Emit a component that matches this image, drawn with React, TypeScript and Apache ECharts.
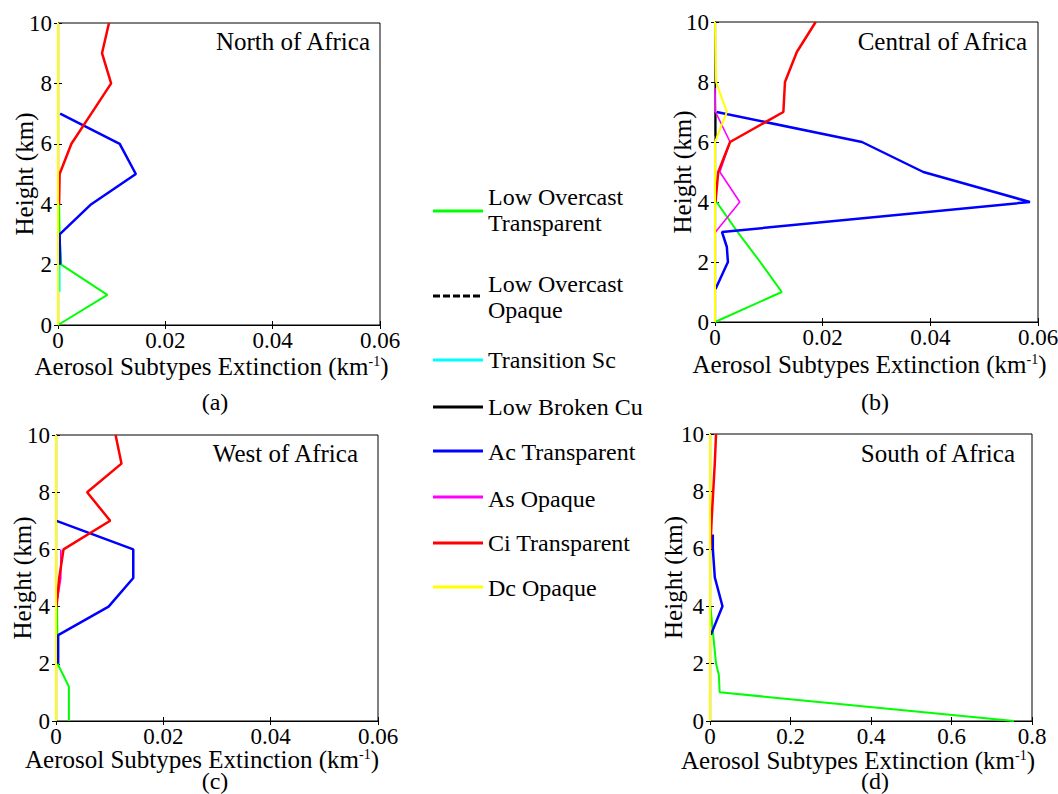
import React, { useEffect, useRef } from "react";
import * as echarts from "echarts";

// ---------- data (extinction km^-1, height km) ----------
const seriesNames = [
  "Low Overcast Transparent",
  "Low Overcast Opaque",
  "Transition Sc",
  "Low Broken Cu",
  "Ac Transparent",
  "As Opaque",
  "Ci Transparent",
  "Dc Opaque",
];
const legendLabels = [
  "Low Overcast\nTransparent",
  "Low Overcast\nOpaque",
  "Transition Sc",
  "Low Broken Cu",
  "Ac Transparent",
  "As Opaque",
  "Ci Transparent",
  "Dc Opaque",
];
const panelTitles = ["North of Africa", "Central of Africa", "West of Africa", "South of Africa"];
const panelLetters = ["(a)", "(b)", "(c)", "(d)"];
const xMaxes = [0.06, 0.06, 0.06, 0.8];
const xIntervals = [0.02, 0.02, 0.02, 0.2];
const heightMax = 10;
const heightInterval = 2;

// North of Africa
const northLowOvercastTransparent = [[0, 0], [0.0092, 1], [0.0006, 2], [0.0003, 3], [0.0002, 4]];
const northTransitionSc = [[0.0003, 1.1], [0.0003, 2]];
const northAcTransparent = [[0.0004, 2], [0.0003, 3], [0.0062, 4], [0.0145, 5], [0.0115, 6], [0.0004, 7]];
const northCiTransparent = [[0.0002, 4], [0.0003, 5], [0.0025, 6], [0.0062, 7], [0.0099, 8], [0.0082, 9], [0.0095, 10]];
const northDcOpaque = [[0, 0], [0, 10]];

// Central of Africa
const centralLowOvercastTransparent = [[0, 0], [0.0124, 1], [0.0084, 2], [0.0042, 3], [0.0003, 4]];
const centralLowBrokenCu = [[0.0001, 6.2], [0.0001, 7]];
const centralAcTransparent = [[0.0001, 1.1], [0.0024, 2], [0.0022, 2.5], [0.0013, 3], [0.0585, 4], [0.0387, 5], [0.0273, 6], [0.0003, 7]];
const centralAsOpaque = [[0.0001, 3], [0.0046, 4], [0.0009, 5], [0.0028, 6], [0.0001, 7], [0, 7.8]];
const centralCiTransparent = [[0.0001, 4], [0.0006, 5], [0.0028, 6], [0.0127, 7], [0.013, 8], [0.0152, 9], [0.0187, 10]];
const centralDcOpaque = [[0, 0], [0, 6], [0.0022, 7], [0.0002, 8], [0, 10]];

// West of Africa
const westLowOvercastTransparent = [[0.0024, 0], [0.0024, 1.2], [0.0003, 2], [0.0002, 4]];
const westAcTransparent = [[0.0004, 2], [0.0004, 3], [0.0098, 4], [0.0144, 5], [0.0144, 6], [0.0001, 7]];
const westAsOpaque = [[0.0003, 4.3], [0.0009, 5], [0.0009, 6]];
const westCiTransparent = [[0.0001, 4], [0.0006, 5], [0.0014, 6], [0.0101, 7], [0.0058, 8], [0.0122, 9], [0.0111, 10]];
const westDcOpaque = [[0, 0], [0, 10]];

// South of Africa
const southLowOvercastTransparent = [[0.755, 0], [0.024, 1], [0.022, 1.6], [0.015, 2], [0.008, 3], [0.001, 4]];
const southAcTransparent = [[0.002, 3], [0.031, 4], [0.012, 5], [0.007, 6], [0.007, 6.5]];
const southCiTransparent = [[0.001, 6], [0.004, 7], [0.008, 8], [0.012, 9], [0.015, 10]];
const southDcOpaque = [[0, 0], [0, 10]];

const panelData: Record<string, number[][]>[] = [
  {
    "Low Overcast Transparent": northLowOvercastTransparent,
    "Transition Sc": northTransitionSc,
    "Ac Transparent": northAcTransparent,
    "Ci Transparent": northCiTransparent,
    "Dc Opaque": northDcOpaque,
  },
  {
    "Low Overcast Transparent": centralLowOvercastTransparent,
    "Low Broken Cu": centralLowBrokenCu,
    "Ac Transparent": centralAcTransparent,
    "As Opaque": centralAsOpaque,
    "Ci Transparent": centralCiTransparent,
    "Dc Opaque": centralDcOpaque,
  },
  {
    "Low Overcast Transparent": westLowOvercastTransparent,
    "Ac Transparent": westAcTransparent,
    "As Opaque": westAsOpaque,
    "Ci Transparent": westCiTransparent,
    "Dc Opaque": westDcOpaque,
  },
  {
    "Low Overcast Transparent": southLowOvercastTransparent,
    "Ac Transparent": southAcTransparent,
    "Ci Transparent": southCiTransparent,
    "Dc Opaque": southDcOpaque,
  },
];

// ---------- styles / layout ----------
const FONT = "Liberation Serif";
const colors: Record<string, string> = {
  "Low Overcast Transparent": "#00ff00",
  "Low Overcast Opaque": "#000000",
  "Transition Sc": "#00ffff",
  "Low Broken Cu": "#000000",
  "Ac Transparent": "#0000ff",
  "As Opaque": "#ff00ff",
  "Ci Transparent": "#ff0000",
  "Dc Opaque": "#ffff00",
};
const lineWidths: Record<string, number> = {
  "Low Overcast Transparent": 2,
  "Low Overcast Opaque": 2,
  "Transition Sc": 2,
  "Low Broken Cu": 2,
  "Ac Transparent": 2.5,
  "As Opaque": 1.6,
  "Ci Transparent": 2.5,
  "Dc Opaque": 2,
};
const grids = [
  { left: 58, top: 23, width: 322, height: 302 },
  { left: 715, top: 22, width: 323, height: 300 },
  { left: 56, top: 435, width: 322, height: 286 },
  { left: 710, top: 434, width: 322, height: 287 },
];
const xNameGaps = [29, 30, 26, 27];
const xNameShift = [15, 14, 30, 26];
const yNameGaps = [21, 20, 21, 24];
const titleRight = [370, 1027, 358, 1015];
const titleY = [41, 41, 453, 453];
const letterPos = [
  [215, 402],
  [875, 402],
  [215, 781],
  [875, 781],
];
const legendLineY = [211, 296, 360, 407, 451, 497, 543, 587];
const legendTextY = [210, 297, 360, 407, 452, 499, 543, 588];

const fmt = (v: number) => String(+v.toFixed(3));

function buildOption() {
  const xAxis: any[] = [];
  const yAxis: any[] = [];
  const series: any[] = [];
  const graphic: any[] = [];

  grids.forEach((g, i) => {
    const tick = { show: true, inside: true, length: 4, lineStyle: { color: "#000", width: 1 } };
    xAxis.push({
      type: "value",
      gridIndex: i,
      position: "bottom",
      min: 0,
      max: xMaxes[i],
      interval: xIntervals[i],
      axisLine: { show: true, lineStyle: { color: "#000", width: 1.2 } },
      axisTick: tick,
      splitLine: { show: false },
      axisLabel: { fontSize: 23, fontFamily: FONT, color: "#000", margin: 4, lineHeight: 23, formatter: fmt },
      name: "Aerosol Subtypes Extinction (km{sup|-1})",
      nameLocation: "middle",
      nameGap: xNameGaps[i],
      nameMoveOverlap: false,
      nameTextStyle: {
        fontSize: 25,
        lineHeight: 25,
        fontFamily: FONT,
        color: "#000",
        padding: [0, xNameShift[i], 0, 0],
        rich: {
          sup: { fontSize: 14, lineHeight: 14, fontFamily: FONT, color: "#000", verticalAlign: "top" },
        },
      },
    });
    xAxis.push({
      type: "value",
      gridIndex: i,
      position: "top",
      min: 0,
      max: xMaxes[i],
      interval: xIntervals[i],
      axisLine: { show: false },
      axisTick: tick,
      splitLine: { show: false },
      axisLabel: { show: false },
    });
    yAxis.push({
      type: "value",
      gridIndex: i,
      position: "left",
      min: 0,
      max: heightMax,
      interval: heightInterval,
      axisLine: { show: true, lineStyle: { color: "#000", width: 1.2 } },
      axisTick: tick,
      splitLine: { show: false },
      axisLabel: { fontSize: 23, fontFamily: FONT, color: "#000", margin: 6 },
      name: "Height (km)",
      nameLocation: "middle",
      nameGap: yNameGaps[i],
      nameRotate: 90,
      nameMoveOverlap: false,
      nameTextStyle: { fontSize: 25, fontFamily: FONT, color: "#000" },
    });
    yAxis.push({
      type: "value",
      gridIndex: i,
      position: "right",
      min: 0,
      max: heightMax,
      interval: heightInterval,
      axisLine: { show: false },
      axisTick: tick,
      splitLine: { show: false },
      axisLabel: { show: false },
    });

    seriesNames.forEach((name) => {
      const d = panelData[i][name];
      if (!d) return;
      series.push({
        type: "line",
        name,
        xAxisIndex: 2 * i,
        yAxisIndex: 2 * i,
        data: d,
        symbol: "none",
        lineStyle: { color: colors[name], width: lineWidths[name] },
        itemStyle: { color: colors[name] },
        z: name === "Dc Opaque" ? 3 : 2,
      });
    });

    graphic.push({
      type: "text",
      x: titleRight[i],
      y: titleY[i],
      style: {
        text: panelTitles[i],
        fontSize: 25,
        fontFamily: FONT,
        fill: "#000",
        align: "right",
        verticalAlign: "middle",
      },
    });
    graphic.push({
      type: "text",
      x: letterPos[i][0],
      y: letterPos[i][1],
      style: {
        text: panelLetters[i],
        fontSize: 24,
        lineHeight: 22,
        fontFamily: FONT,
        fill: "#000",
        align: "center",
        verticalAlign: "middle",
      },
    });
  });

  // legend
  seriesNames.forEach((name, k) => {
    graphic.push({
      type: "line",
      shape: { x1: 433, y1: legendLineY[k], x2: 483, y2: legendLineY[k] },
      style: {
        stroke: colors[name],
        lineWidth: 3,
        lineDash: name === "Low Overcast Opaque" ? [7, 3] : null,
      },
    });
    graphic.push({
      type: "text",
      x: 488,
      y: legendTextY[k],
      style: {
        text: legendLabels[k],
        fontSize: 24,
        fontFamily: FONT,
        fill: "#000",
        align: "left",
        verticalAlign: "middle",
        lineHeight: 26,
      },
    });
  });

  return {
    animation: false,
    backgroundColor: "#ffffff",
    grid: grids.map((g) => ({
      left: g.left,
      top: g.top,
      width: g.width,
      height: g.height,
      show: true,
      borderColor: "#000",
      borderWidth: 1,
      backgroundColor: "#fff",
      containLabel: false,
      outerBoundsMode: "none",
    })),
    xAxis,
    yAxis,
    series,
    graphic,
  };
}

export default function App() {
  const ref = useRef<HTMLDivElement>(null);
  useEffect(() => {
    if (!ref.current) return;
    const chart = echarts.init(ref.current, null, { renderer: "svg" });
    chart.setOption(buildOption() as any);
    return () => chart.dispose();
  }, []);
  return (
    <div
      ref={ref}
      style={{ position: "absolute", left: 0, top: 0, width: 1058, height: 794, background: "#fff" }}
    />
  );
}
